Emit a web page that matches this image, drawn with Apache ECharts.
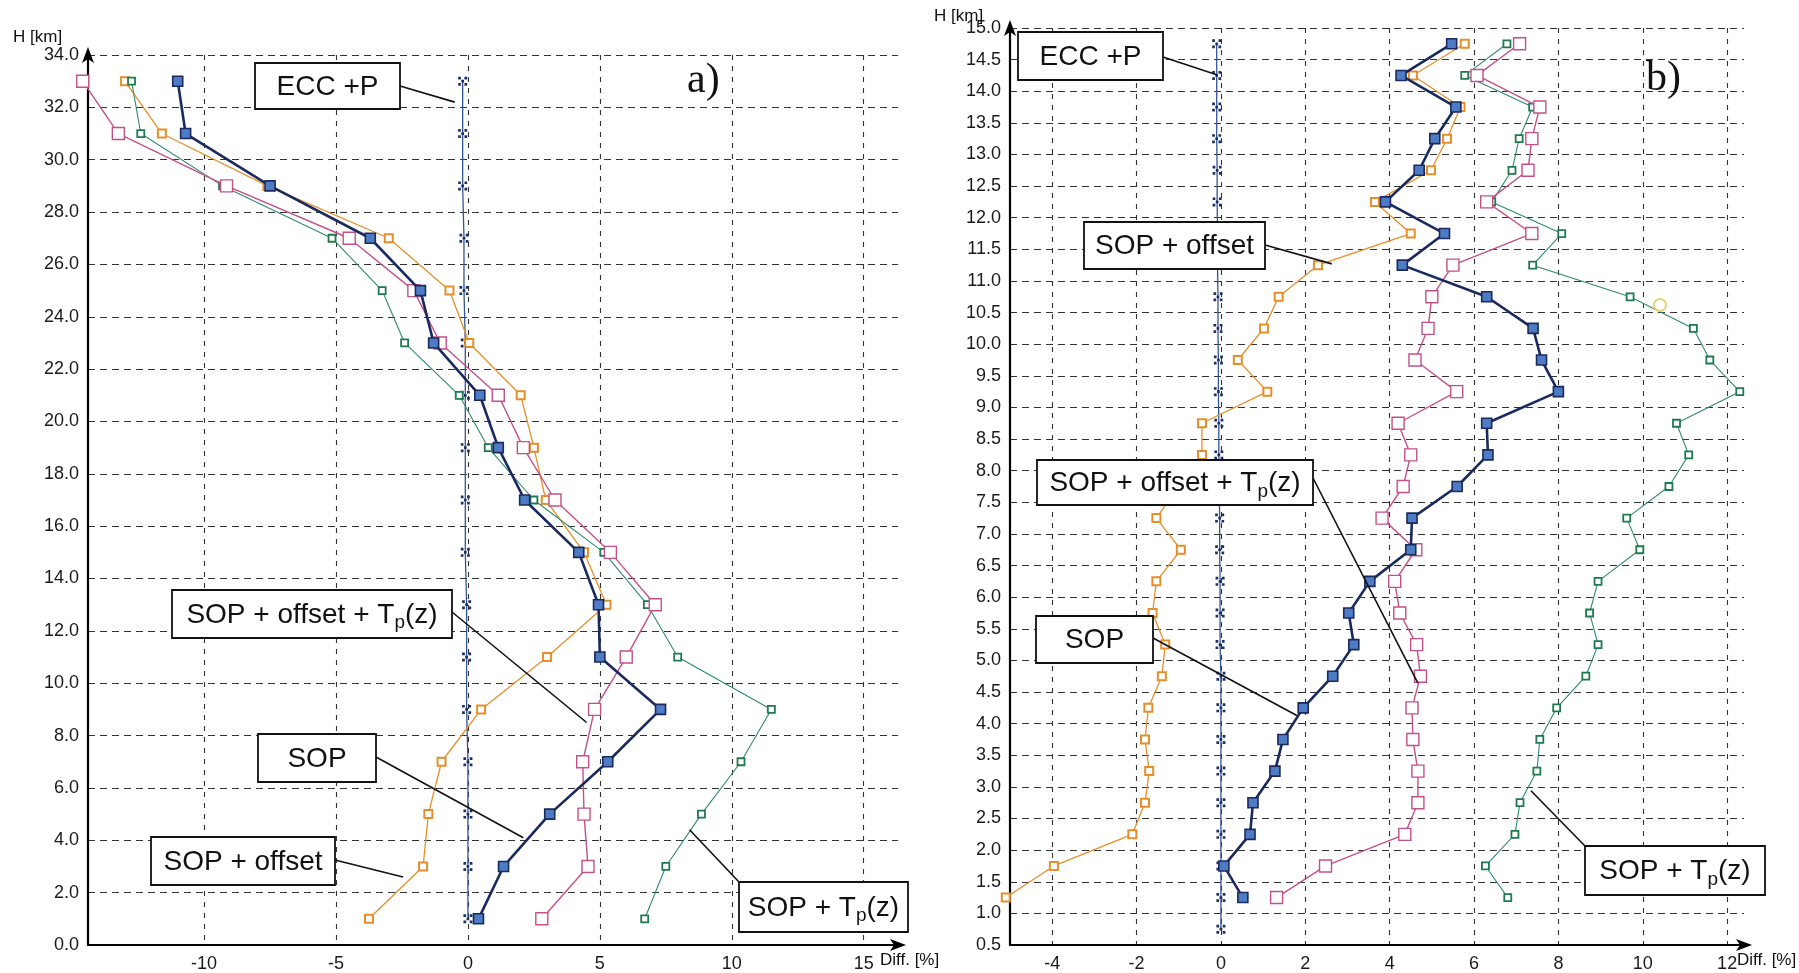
<!DOCTYPE html>
<html><head><meta charset="utf-8">
<script src="https://cdn.jsdelivr.net/npm/echarts@6/dist/echarts.min.js"></script>
<style>html,body{margin:0;padding:0;background:#fff}#c{width:1799px;height:973px}</style>
</head><body><div id="c"></div>
<script>
// ---------- Panel a) data (height km, bottom -> top) ----------
const heightsA = [1,3,5,7,9,11,13,15,17,19,21,23,25,27,29,31,33];
const eccA     = [0,0,0,0,-0.05,-0.05,-0.05,-0.1,-0.1,-0.1,-0.1,-0.1,-0.15,-0.15,-0.2,-0.2,-0.2];
const sopA     = [0.4,1.35,3.1,5.3,7.3,5.0,4.95,4.2,2.15,1.15,0.45,-1.3,-1.8,-3.7,-7.5,-10.7,-11.0];
const offA     = [-3.75,-1.7,-1.5,-1.0,0.5,3.0,5.25,4.4,2.95,2.5,2.0,0.05,-0.7,-3.0,-7.6,-11.6,-13.0];
const offTpA   = [2.8,4.55,4.4,4.35,4.8,6.0,7.1,5.4,3.3,2.1,1.15,-1.05,-2.05,-4.5,-9.15,-13.25,-14.6];
const tpA      = [6.7,7.5,8.85,10.35,11.5,7.95,6.8,5.15,2.5,0.77,-0.33,-2.4,-3.25,-5.15,-9.3,-12.4,-12.75];

// ---------- Panel b) data ----------
const heightsEccB = [0.75,1.25,1.75,2.25,2.75,3.25,3.75,4.25,4.75,5.25,5.75,6.25,6.75,7.25,7.75,8.25,8.75,9.25,9.75,10.25,10.75,11.25,11.75,12.25,12.75,13.25,13.75,14.25,14.75];
const eccB = [0,0,0,0,0,0,0,0,0,-0.02,-0.02,-0.02,-0.03,-0.03,-0.04,-0.05,-0.05,-0.06,-0.06,-0.07,-0.07,-0.08,-0.08,-0.09,-0.09,-0.1,-0.1,-0.1,-0.1];
const heightsB = [1.25,1.75,2.25,2.75,3.25,3.75,4.25,4.75,5.25,5.75,6.25,6.75,7.25,7.75,8.25,8.75,9.25,9.75,10.25,10.75,11.25,11.75,12.25,12.75,13.25,13.75,14.25,14.75];
const sopB   = [0.52,0.07,0.69,0.76,1.28,1.47,1.95,2.65,3.15,3.03,3.53,4.5,4.53,5.6,6.33,6.3,8.0,7.6,7.4,6.3,4.3,5.3,3.9,4.7,5.07,5.57,4.27,5.47];
const offB   = [-5.1,-3.96,-2.1,-1.8,-1.7,-1.8,-1.72,-1.4,-1.32,-1.62,-1.53,-0.95,-1.53,-1.0,-0.45,-0.45,1.1,0.4,1.02,1.37,2.3,4.5,3.65,4.98,5.36,5.68,4.55,5.78];
const offTpB = [1.32,2.48,4.36,4.67,4.67,4.55,4.53,4.73,4.64,4.24,4.12,4.62,3.82,4.32,4.5,4.2,5.59,4.6,4.91,5.0,5.5,7.37,6.3,7.28,7.37,7.56,6.07,7.08];
const tpB    = [6.8,6.27,6.97,7.09,7.49,7.56,7.96,8.65,8.94,8.74,8.94,9.93,9.62,10.62,11.09,10.8,12.3,11.59,11.2,9.7,7.39,8.08,6.42,6.9,7.07,7.39,5.78,6.78];

// ---------- Annotation callouts: box (px), leader start (px), leader end (data) ----------
const annotA = [
  {text:'ECC +P', box:[255,63,145,46], from:[400,86], to:[-0.5,32.2]},
  {text:'SOP + offset + T{s|p}(z)', box:[172,590,280,48], from:[452,612], to:[4.5,8.5]},
  {text:'SOP', box:[258,734,118,48], from:[376,757], to:[2.1,4.1]},
  {text:'SOP + offset', box:[151,837,184,48], from:[335,860], to:[-2.46,2.6]},
  {text:'SOP + T{s|p}(z)', box:[739,882,169,50], from:[739,882], to:[8.4,4.4]}
];
const annotB = [
  {text:'ECC +P', box:[1018,32,145,48], from:[1163,57], to:[-0.1,14.26]},
  {text:'SOP + offset', box:[1084,222,181,47], from:[1265,245], to:[2.63,11.27]},
  {text:'SOP + offset + T{s|p}(z)', box:[1037,460,276,45], from:[1313,478], to:[4.67,4.64]},
  {text:'SOP', box:[1036,616,117,47], from:[1153,638], to:[1.8,4.13]},
  {text:'SOP + T{s|p}(z)', box:[1585,846,180,49], from:[1585,846], to:[7.35,2.94]}
];

const FONT = '"Liberation Sans", Arial, sans-serif';
const pair = (xs, hs) => xs.map((v,i)=>[v, hs[i]]);
const dotsPath = 'path://M0,0h3v3h-3z M7,0h3v3h-3z M3.5,3.5h3v3h-3z M0,7h3v3h-3z M7,7h3v3h-3z';

const C = {ecc:'#34548f', sop:'#1b2a5e', sopFill:'#4d7cc4', off:'#e58f2c', offTp:'#c4508a', tp:'#2f8a6c'};

function mkSeries(gi){
  const A = gi===0;
  const hs = A ? heightsA : heightsB;
  return [
    {name:'ECC +P', type:'line', xAxisIndex:gi, yAxisIndex:gi, data: A ? pair(eccA, heightsA) : pair(eccB, heightsEccB),
     symbol: dotsPath, symbolSize: 9, lineStyle:{color:C.ecc, width:1.3}, itemStyle:{color:'#1a2f66'}, z:3},
    {name:'SOP + offset', type:'line', xAxisIndex:gi, yAxisIndex:gi, data: pair(A?offA:offB, hs), clip:false,
     symbol:'rect', symbolSize: 8, lineStyle:{color:C.off, width:1.3}, itemStyle:{color:'#fff', borderColor:C.off, borderWidth:2}, z:4},
    {name:'SOP + Tp(z)', type:'line', xAxisIndex:gi, yAxisIndex:gi, data: pair(A?tpA:tpB, hs), clip:false,
     symbol:'rect', symbolSize: 7, lineStyle:{color:C.tp, width:1.1}, itemStyle:{color:'#fff', borderColor:'#1f7a4f', borderWidth:1.8}, z:4},
    {name:'SOP + offset + Tp(z)', type:'line', xAxisIndex:gi, yAxisIndex:gi, data: pair(A?offTpA:offTpB, hs), clip:false,
     symbol:'rect', symbolSize: 12, lineStyle:{color:C.offTp, width:1.4}, itemStyle:{color:'#fff', borderColor:C.offTp, borderWidth:1.4}, z:5},
    {name:'SOP', type:'line', xAxisIndex:gi, yAxisIndex:gi, data: pair(A?sopA:sopB, hs), clip:false,
     symbol:'rect', symbolSize: 10, lineStyle:{color:C.sop, width:2.6}, itemStyle:{color:C.sopFill, borderColor:C.sop, borderWidth:1.6}, z:6}
  ];
}

const gridH = {show:true, showMaxLine:true, showMinLine:false, lineStyle:{color:'#333', width:1.2, type:[7,5]}};
const gridV = {show:true, showMaxLine:false, showMinLine:false, lineStyle:{color:'#333', width:1.1, type:[5,6]}};
const axisLine = {show:true, onZero:false, lineStyle:{color:'#000', width:2.2}, symbol:['none','arrow'], symbolSize:[9,16], symbolOffset:[0,8]};
const lbl = {color:'#1a1a1a', fontSize:18, fontFamily:FONT};

const option = {
  backgroundColor:'#fff',
  animation:false,
  grid:[
    {left:88, top:55, width:810, height:892},
    {left:1010, top:28, width:734, height:922}
  ],
  xAxis:[
    {type:'value', gridIndex:0, min:-14.4, max:16.3, splitNumber:6, axisLine, axisTick:{show:false},
     splitLine:gridV,
     axisLabel:Object.assign({}, lbl, {margin:10, formatter:v=> (Math.abs(v%5)<1e-9)?String(v):''})},
    {type:'value', gridIndex:1, min:-5, max:12.4, splitNumber:9, axisLine, axisTick:{show:false},
     splitLine:gridV,
     axisLabel:Object.assign({}, lbl, {margin:10, formatter:v=> (Number.isInteger(v) && v%2===0)?String(v):''})}
  ],
  yAxis:[
    {type:'value', gridIndex:0, min:0, max:34, interval:2, axisLine, axisTick:{show:false},
     splitLine:gridH,
     axisLabel:Object.assign({}, lbl, {margin:9, formatter:v=>v.toFixed(1)})},
    {type:'value', gridIndex:1, min:0.5, max:15, interval:0.5, axisLine, axisTick:{show:false},
     splitLine:gridH,
     axisLabel:Object.assign({}, lbl, {margin:9, formatter:v=>v.toFixed(1)})}
  ],
  series: mkSeries(0).concat(mkSeries(1))
};

const chart = echarts.init(document.getElementById('c'));
chart.setOption(option);

const graphics = [];
[annotA, annotB].forEach((list, gi) => list.forEach(a => {
  const p = chart.convertToPixel({gridIndex: gi}, a.to);
  graphics.push({type:'line', shape:{x1:a.from[0], y1:a.from[1], x2:p[0], y2:p[1]}, style:{stroke:'#111', lineWidth:1.6}, z:100});
  graphics.push({type:'rect', shape:{x:a.box[0], y:a.box[1], width:a.box[2], height:a.box[3]}, style:{fill:'#fff', stroke:'#111', lineWidth:1.8}, z:101});
  graphics.push({type:'text', x:a.box[0]+a.box[2]/2, y:a.box[1]+a.box[3]/2 + 1, z:102,
    style:{text:a.text, fill:'#111', fontSize:28, fontFamily:FONT, align:'center', verticalAlign:'middle',
      rich:{s:{fontSize:19, fontFamily:FONT, fill:'#111', padding:[16,0,0,0]}}}});
}));
graphics.push(
  {type:'text', x:687, y:60, style:{text:'a)', fontSize:42, fontFamily:'"Liberation Serif", serif', fill:'#111'}, z:110},
  {type:'text', x:1646, y:58, style:{text:'b)', fontSize:42, fontFamily:'"Liberation Serif", serif', fill:'#111'}, z:110},
  {type:'text', x:13, y:29, style:{text:'H [km]', fontSize:17, fontFamily:FONT, fill:'#111'}, z:110},
  {type:'text', x:934, y:8, style:{text:'H [km]', fontSize:17, fontFamily:FONT, fill:'#111'}, z:110},
  {type:'text', x:880, y:952, style:{text:'Diff. [%]', fontSize:17, fontFamily:FONT, fill:'#111'}, z:110},
  {type:'text', x:1737, y:952, style:{text:'Diff. [%]', fontSize:17, fontFamily:FONT, fill:'#111'}, z:110},
  {type:'circle', shape:{cx:1660, cy:305, r:6}, style:{fill:'none', stroke:'#e9d27a', lineWidth:2}, z:90}
);
chart.setOption({graphic: graphics});
</script>
</body></html>
